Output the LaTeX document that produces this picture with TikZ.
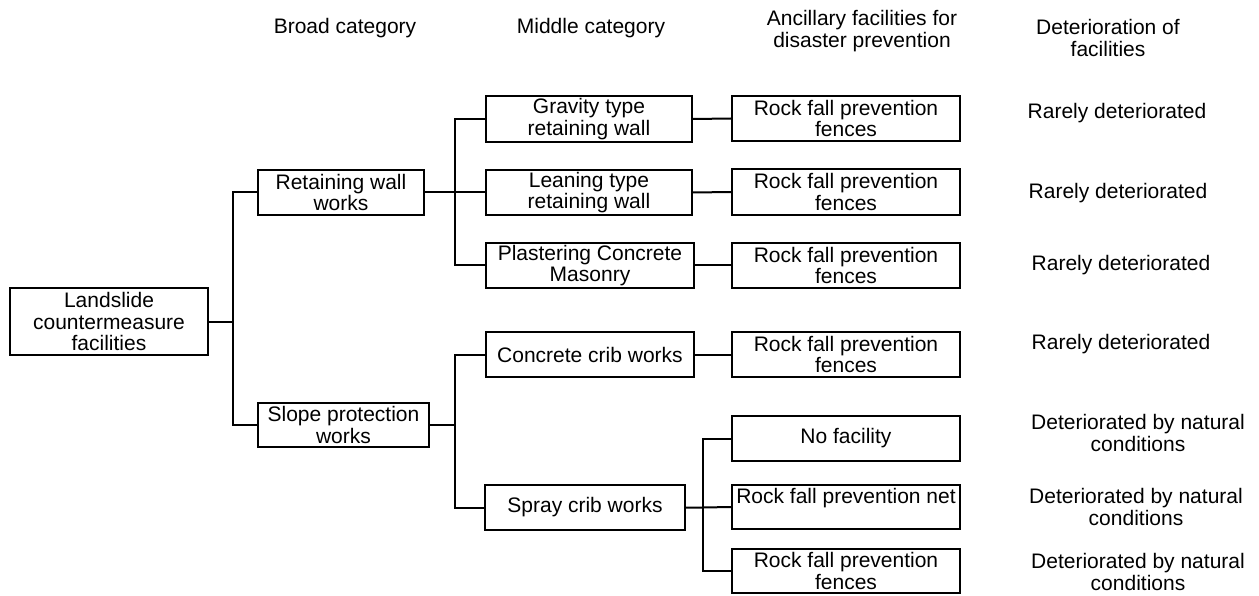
\documentclass[tikz,border=0pt]{standalone}
\usepackage{fontspec}
\setmainfont{Liberation Sans}
\begin{document}
\begin{tikzpicture}[x=1pt,y=-1pt,
  every node/.style={font=\fontsize{21}{21.5}\selectfont, align=center, inner sep=0pt},
  box/.style n args={2}{draw, line width=2pt, minimum width=#1pt, minimum height=#2pt},
  link/.style={line width=2pt},
  label/.style={}]
\fill[white] (0,0) rectangle (1259,596);

% column headings
\node[label] (h1) at (345,28) {Broad category};
\node[label] (h2) at (591,28) {Middle category};
\node[label] (h3) at (862,31) {Ancillary facilities for\\disaster prevention};
\node[label] (h4) at (1108,38) {Deterioration of\\facilities};

% root
\node[box={198}{67}] (land) at (109,321.5) {Landslide\\countermeasure\\facilities};

% broad categories
\node[box={166}{45}] (rw) at (341,192.5) {Retaining wall\\works};
\node[box={171}{44}] (sp) at (343.5,425) {Slope protection\\works};

% middle categories
\node[box={206}{46}] (m1) at (589,119) {Gravity type\\retaining wall};
\node[box={206}{45}] (m2) at (589,192.5) {Leaning type\\retaining wall};
\node[box={208}{45}] (m3) at (590,265.5) {Plastering Concrete\\Masonry};
\node[box={208}{45}] (m4) at (590,354.5) {Concrete crib works};
\node[box={200}{45}] (m5) at (585,507.5) {Spray crib works};

% ancillary facilities
\node[box={228}{45}] (a1) at (846,118.5) {Rock fall prevention\\fences};
\node[box={228}{46}] (a2) at (846,192) {Rock fall prevention\\fences};
\node[box={228}{45}] (a3) at (846,265.5) {Rock fall prevention\\fences};
\node[box={228}{45}] (a4) at (846,354.5) {Rock fall prevention\\fences};
\node[box={228}{45}] (a5) at (846,438.5) {No facility};
\node[box={228}{44}] (a6) at (846,507) {Rock fall prevention net\\\mbox{}};
\node[box={228}{44}] (a7) at (846,571) {Rock fall prevention\\fences};

% deterioration
\node[label] (r1) at (1117,113) {Rarely deteriorated};
\node[label] (r2) at (1118,193) {Rarely deteriorated};
\node[label] (r3) at (1121,265) {Rarely deteriorated};
\node[label] (r4) at (1121,344) {Rarely deteriorated};
\node[label] (d1) at (1138,433) {Deteriorated by natural\\conditions};
\node[label] (d2) at (1136,507) {Deteriorated by natural\\conditions};
\node[label] (d3) at (1138,572) {Deteriorated by natural\\conditions};

% branch points
\coordinate (j1) at (233,321.5);
\coordinate (j2) at (455,192.5);
\coordinate (j3) at (455,425);
\coordinate (j4) at (703,507.5);

% connectors
\draw[link] (land.east) -- (j1);
\draw[link] (rw.west) -| (j1);
\draw[link] (sp.west) -| (j1);

\draw[link] (rw.east) -- (m2.west);
\draw[link] (m1.west) -| (j2);
\draw[link] (m3.west) -| (j2);

\draw[link] (sp.east) -- (j3);
\draw[link] (m4.west) -| (j3);
\draw[link] (m5.west) -| (j3);

\draw[link] (m1.east) -- (a1.west);
\draw[link] (m2.east) -- (a2.west);
\draw[link] (m3.east) -- (a3.west);
\draw[link] (m4.east) -- (a4.west);

\draw[link] (m5.east) -- (j4) -- (a6.west);
\draw[link] (a5.west) -| (j4);
\draw[link] (a7.west) -| (j4);
\end{tikzpicture}
\end{document}
